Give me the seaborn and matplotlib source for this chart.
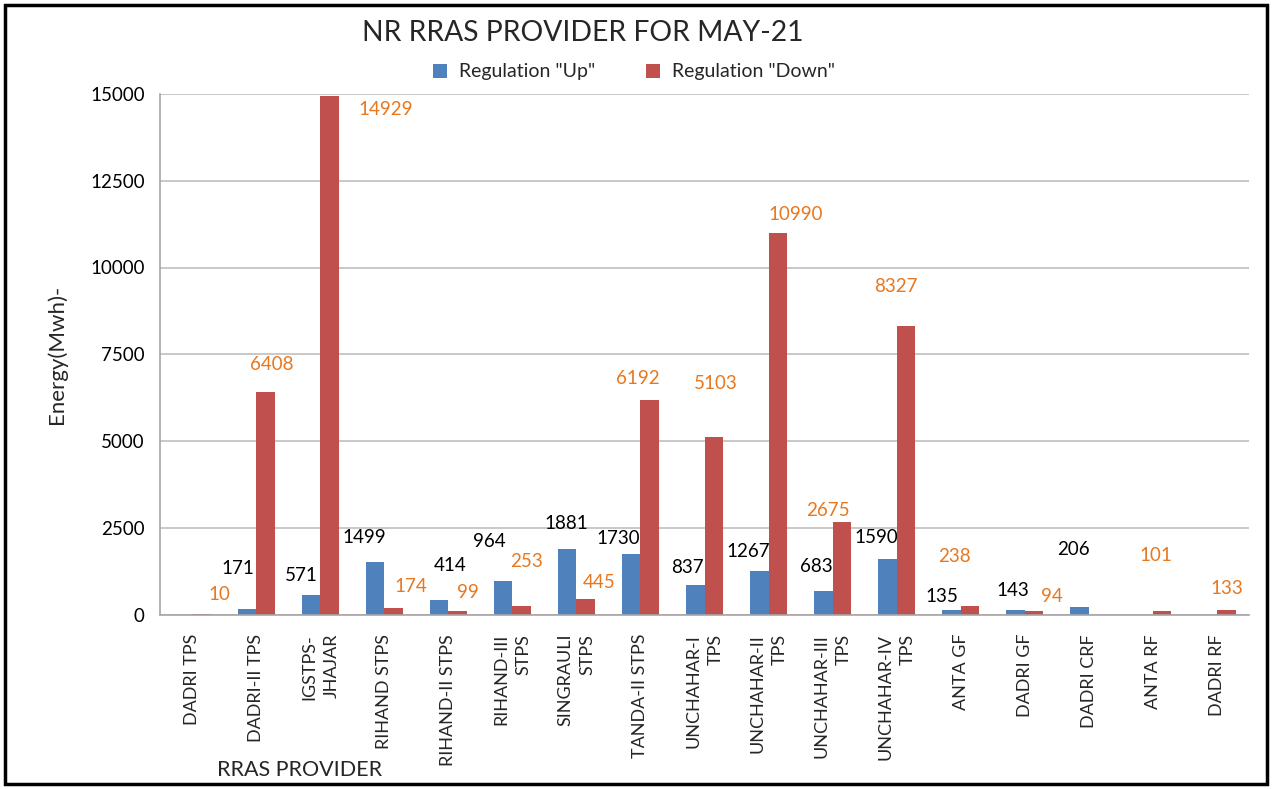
import pandas as pd
import numpy as np
import matplotlib
matplotlib.use("Agg")
import matplotlib.pyplot as plt
import seaborn as sns
from matplotlib.patches import Rectangle

# data
providers = ["DADRI TPS", "DADRI-II TPS", "IGSTPS-\nJHAJAR", "RIHAND STPS",
             "RIHAND-II STPS", "RIHAND-III\nSTPS", "SINGRAULI\nSTPS", "TANDA-II STPS",
             "UNCHAHAR-I\nTPS", "UNCHAHAR-II\nTPS", "UNCHAHAR-III\nTPS", "UNCHAHAR-IV\nTPS",
             "ANTA GF", "DADRI GF", "DADRI CRF", "ANTA RF", "DADRI RF"]
reg_up = [np.nan, 171, 571, 1499, 414, 964, 1881, 1730, 837, 1267, 683, 1590,
          135, 143, 206, np.nan, np.nan]
reg_down = [10, 6408, 14929, 174, 99, 253, 445, 6192, 5103, 10990, 2675, 8327,
            238, 94, np.nan, 101, 133]
series = ['Regulation "Up"', 'Regulation "Down"']

# label nudges (pixels from the bar top), as Excel placed them
up_nudge = [(0, 0), (-9, 40), (-10, 19), (-11, 25), (11, 35), (-14, 40), (-1, 26), (-13, 16),
            (-8, 18), (-11, 19), (-7, 24), (-11, 22), (-10, 13), (-3, 19), (-6, 58), (0, 0), (0, 0)]
down_nudge = [(18, 20), (6, 28), (56, -13), (17, 22), (10, 19), (5, 44), (13, 17), (-12, 21),
              (2, 54), (18, 19), (-14, 11), (-10, 39), (-16, 50), (18, 15), (0, 0), (-6, 55), (1, 21)]

df = pd.DataFrame({
    "provider": providers * 2,
    "series": [series[0]] * len(providers) + [series[1]] * len(providers),
    "energy": reg_up + reg_down,
})

sns.set_theme(style="white")
plt.rcParams["font.family"] = ["Lato", "DejaVu Sans"]

fig = plt.figure(figsize=(12.72, 7.89), dpi=100)
ax = fig.add_axes([160 / 1272, 1 - 614.5 / 789, 1089 / 1272, 520.5 / 789])

sns.barplot(data=df, x="provider", y="energy", hue="series",
            palette=["#4F81BD", "#C0504D"], width=0.58, ax=ax, saturation=1,
            linewidth=0)

ax.set_xlim(-0.5, len(providers) - 0.5)
ax.set_ylim(0, 15000)
ax.set_yticks(np.arange(0, 15001, 2500))
ax.yaxis.grid(True, color="#BFBFBF", lw=1.2)
ax.set_axisbelow(True)
for s in ["top", "right"]:
    ax.spines[s].set_visible(False)
for s in ["left", "bottom"]:
    ax.spines[s].set_color("#A6A6A6")
    ax.spines[s].set_linewidth(1.2)
ax.tick_params(axis="y", labelsize=13.5, colors="black", pad=11, length=0)
ax.tick_params(axis="x", length=0, pad=14)
ax.set_xticks(range(len(providers)))
ax.set_xticklabels(providers, rotation=90, ha="center", va="top",
                   multialignment="right", fontsize=13, linespacing=1.5)

# data labels
for i, (u, d) in enumerate(zip(reg_up, reg_down)):
    if not np.isnan(u):
        ax.annotate(f"{int(u)}", (i - 0.145, u), xytext=up_nudge[i],
                    textcoords="offset pixels", ha="center", va="center",
                    fontsize=13.5, color="black")
    if not np.isnan(d):
        ax.annotate(f"{int(d)}", (i + 0.145, d), xytext=down_nudge[i],
                    textcoords="offset pixels", ha="center", va="center",
                    fontsize=13.5, color="#E8771E")

ax.set_xlabel("")
ax.set_ylabel("Energy(Mwh)-", fontsize=16)
ax.yaxis.set_label_coords((67 - 160) / 1089, 0.5)
fig.text(300 / 1272, 1 - 770 / 789, "RRAS PROVIDER", fontsize=15.5,
         ha="center", va="center")
fig.text(583 / 1272, 1 - 33 / 789, "NR RRAS PROVIDER FOR MAY-21", fontsize=20.3,
         ha="center", va="center")

ax.legend(loc="center", bbox_to_anchor=(634 / 1272, 1 - 72 / 789), bbox_transform=fig.transFigure,
          ncol=2, frameon=False, fontsize=14, handlelength=0.75, handleheight=0.75,
          columnspacing=2.6, handletextpad=0.6)

fig.patches.append(Rectangle((0.004, 0.006), 0.992, 0.988, transform=fig.transFigure,
                             fill=False, edgecolor="black", lw=2.5))

fig.savefig("out.png", dpi=100)
